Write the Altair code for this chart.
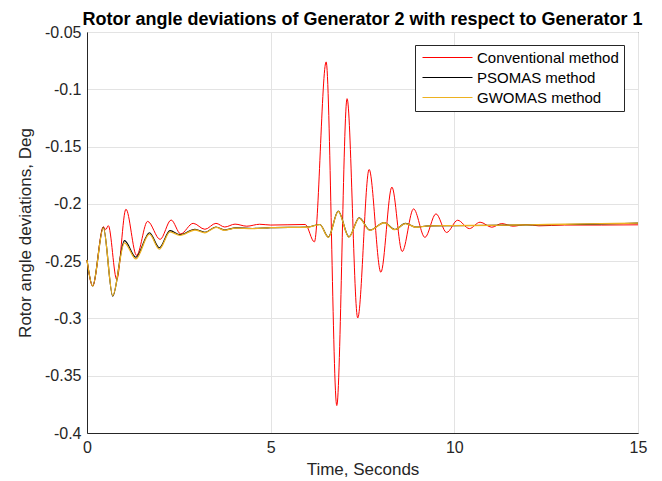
import altair as alt
import pandas as pd

# Rotor angle deviation (deg) of generator 2 relative to generator 1, turning points of each response
conv_t = [0.0, 0.155, 0.445, 0.51, 0.58, 0.81, 1.06, 1.35, 1.65, 1.99, 2.29, 2.55, 2.89, 3.21, 3.51,
          3.75, 4.03, 4.35, 4.7, 5.0, 5.94, 6.19, 6.51, 6.80, 7.08, 7.37, 7.68, 8.00, 8.30, 8.58,
          8.89, 9.20, 9.50, 9.79, 10.09, 10.41, 10.70, 11.02, 11.29, 11.60, 11.95, 12.3, 13.0, 14.0, 15.0]
conv_v = [-0.249, -0.2717, -0.2200, -0.2225, -0.2190, -0.2660, -0.2047, -0.2450, -0.2153, -0.2310,
          -0.2141, -0.2262, -0.2170, -0.2222, -0.2170, -0.2202, -0.2177, -0.2195, -0.2178, -0.2185,
          -0.2180, -0.2332, -0.0761, -0.3760, -0.1082, -0.2996, -0.1700, -0.2597, -0.1854, -0.2416,
          -0.2044, -0.2293, -0.2087, -0.2250, -0.2143, -0.2216, -0.2160, -0.2204, -0.2172, -0.2195,
          -0.2180, -0.2192, -0.2185, -0.2185, -0.2183]

pso_t = [0.0, 0.155, 0.445, 0.70, 1.02, 1.33, 1.70, 1.97, 2.26, 2.53, 2.94, 3.21, 3.51, 3.75, 4.05,
         4.5, 5.0, 6.0, 6.34, 6.57, 6.84, 7.13, 7.41, 7.70, 8.09, 8.38, 8.67, 8.95, 9.3, 10.0, 11.0,
         12.0, 13.0, 14.0, 15.0]
pso_v = [-0.249, -0.2717, -0.2205, -0.2806, -0.2321, -0.2466, -0.2252, -0.2383, -0.2234, -0.2269,
         -0.2222, -0.2248, -0.2202, -0.2228, -0.2210, -0.2215, -0.2207, -0.2203, -0.2180, -0.2290,
         -0.2064, -0.2288, -0.2122, -0.2230, -0.2163, -0.2224, -0.2171, -0.2203, -0.2192, -0.2190,
         -0.2188, -0.2184, -0.2180, -0.2175, -0.2169]

gwo_t = [0.0, 0.155, 0.445, 0.70, 1.02, 1.33, 1.70, 1.97, 2.26, 2.53, 2.94, 3.21, 3.51, 3.75, 4.05,
         4.5, 5.0, 6.0, 6.34, 6.57, 6.84, 7.13, 7.41, 7.70, 8.09, 8.38, 8.67, 8.95, 9.3, 10.0, 11.0,
         12.0, 13.0, 14.0, 15.0]
gwo_v = [-0.249, -0.2717, -0.2210, -0.2800, -0.2340, -0.2480, -0.2265, -0.2395, -0.2245, -0.2275,
         -0.2228, -0.2252, -0.2206, -0.2231, -0.2212, -0.2217, -0.2208, -0.2204, -0.2181, -0.2292,
         -0.2066, -0.2290, -0.2124, -0.2232, -0.2165, -0.2225, -0.2172, -0.2204, -0.2192, -0.2190,
         -0.2187, -0.2183, -0.2178, -0.2173, -0.2169]

series_names = ["Conventional method", "PSOMAS method", "GWOMAS method"]
series_colors = ["#ff0000", "#000000", "#edb120"]
series_widths = [1.0, 1.2, 1.3]

x_ticks = [0, 5, 10, 15]
y_ticks = [-0.4, -0.35, -0.3, -0.25, -0.2, -0.15, -0.1, -0.05]

frames = []
for name, ts, vs in zip(series_names, [conv_t, pso_t, gwo_t], [conv_v, pso_v, gwo_v]):
    frames.append(pd.DataFrame({"t": ts, "v": vs, "series": name}))
df = pd.concat(frames, ignore_index=True)

FONT = "Liberation Sans"
TXT = "#262626"

x_enc = alt.X("t:Q", scale=alt.Scale(domain=[0, 15], nice=False),
              axis=alt.Axis(values=x_ticks, title="Time, Seconds", format="d", labelFlush=False))
y_enc = alt.Y("v:Q", scale=alt.Scale(domain=[-0.4, -0.05], nice=False, zero=False),
              axis=alt.Axis(values=y_ticks, title="Rotor angle deviations, Deg",
                            labelExpr="replace(format(datum.value, '~g'), '\u2212', '-')"))
color_enc = alt.Color("series:N",
                      scale=alt.Scale(domain=series_names, range=series_colors),
                      legend=alt.Legend(title=None, orient="none", legendX=328, legendY=13))

layers = []
for name, w in zip(series_names, series_widths):
    layers.append(
        alt.Chart(df).transform_filter(alt.datum.series == name)
        .mark_line(strokeWidth=w, interpolate="monotone")
        .encode(x=x_enc, y=y_enc, color=color_enc)
    )

chart = (
    alt.layer(*layers)
    .properties(
        width=551, height=401,
        title=alt.Title("Rotor angle deviations of Generator 2 with respect to Generator 1",
                        font=FONT, fontSize=18, fontWeight="bold", color="#000000",
                        anchor="middle", baseline="alphabetic", offset=0, dy=19),
        autosize=alt.AutoSizeParams(type="none"),
        padding={"left": 87, "top": 32, "right": 24, "bottom": 48},
    )
    .configure_view(stroke=TXT, strokeWidth=1)
    .configure_axis(
        labelFont=FONT, labelFontSize=16, labelColor=TXT,
        titleFont=FONT, titleFontSize=17, titleColor=TXT, titleFontWeight="normal",
        domainColor=TXT, domainWidth=1, ticks=False, labelPadding=6,
        gridColor="#e3e3e3", gridWidth=1,
    )
    .configure_axisX(titlePadding=6)
    .configure_axisY(titlePadding=10)
    # legend entries use a wide flat line symbol (path scaled by sqrt(symbolSize)/2)
    .configure_legend(
        symbolType="M-5,0H5", symbolSize=100, symbolStrokeWidth=1.2, symbolOffset=20,
        labelFontSize=15, labelFont=FONT, labelColor="#000000", labelOffset=22,
        labelLimit=300, padding=5, rowPadding=4, strokeColor=TXT, fillColor="#ffffff",
    )
)

chart.save("out.html", embed_options={"renderer": "svg", "actions": False})
